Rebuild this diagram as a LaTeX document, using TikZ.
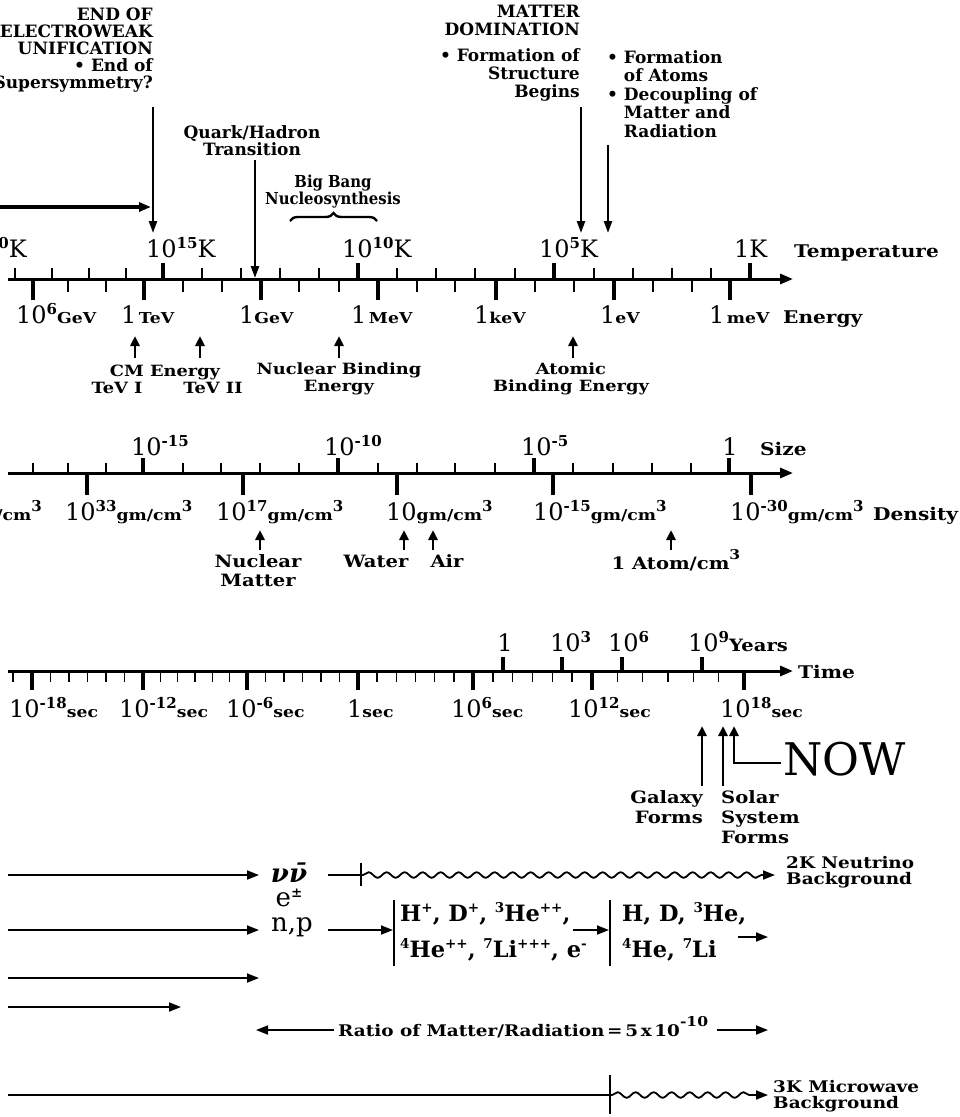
\documentclass[tikz,border=0pt]{standalone}
\usepackage{fontspec}
\setmainfont{DejaVu Serif}
\newfontfamily\sfam{DejaVu Serif}[FakeStretch=1.15]
\newfontfamily\cfam{DejaVu Serif Condensed}
\usetikzlibrary{arrows.meta,decorations.pathmorphing,decorations.pathreplacing}
\newcommand\EX[1]{\raisebox{8.5pt}{\fontsize{15}{15}\selectfont\bfseries #1}}
\newcommand\UN[1]{{\fontsize{15}{15}\selectfont\sfam\bfseries #1}}
\newcommand\HX[1]{\raisebox{9.5pt}{\fontsize{13.5}{13.5}\selectfont\bfseries #1}}
\tikzset{
  axisln/.style={line width=3pt,-{Triangle[length=13pt,width=10pt]}},
  tk/.style={line width=1.6pt},
  tkM/.style={line width=3.5pt},
  uparr/.style={line width=2.8pt,-{Triangle[length=10pt,width=9pt]}},
  vdown/.style={line width=2.4pt,-{Triangle[length=12pt,width=8pt]}},
  harr/.style={line width=1.8pt,-{Triangle[length=12pt,width=9pt]}},
  lab/.style={inner sep=0pt,font=\fontsize{17}{17}\selectfont\bfseries},
  axl/.style={inner sep=0pt,font=\fontsize{17.5}{18}\selectfont\sfam\bfseries},
  slab/.style={inner sep=0pt,font=\fontsize{15.5}{17}\selectfont\sfam\bfseries},
  dlb/.style={inner sep=0pt,font=\fontsize{17}{19}\selectfont\sfam\bfseries},
  glab/.style={inner sep=0pt,font=\fontsize{17}{20}\selectfont\sfam\bfseries},
  blab/.style={inner sep=0pt,font=\fontsize{16}{16}\selectfont\sfam\bfseries},
  num/.style={inner sep=0pt,font=\fontsize{24}{24}\selectfont},
  chem/.style={inner sep=0pt,font=\fontsize{22.5}{36}\selectfont\bfseries},
  wavy/.style={decorate,decoration={snake,amplitude=2.8pt,segment length=18pt,pre length=2pt,post length=10pt}},
}
\begin{document}
\begin{tikzpicture}[x=1pt,y=-1pt]
\useasboundingbox (0,0) rectangle (960,1117);

% ---------------- top labels and arrows
\node[lab,align=right,anchor=north east] (ew) at (153,8)
  {END OF\\ELECTROWEAK\\UNIFICATION\\\textbullet\ End of\\Supersymmetry?};
\coordinate (ewa) at (153,107); \coordinate (ewb) at (153,233);
\draw[vdown] (ewa) -- (ewb);
\coordinate (hza) at (-2,207); \coordinate (hzb) at (151,207);
\draw[line width=3.5pt,-{Triangle[length=12pt,width=9pt]}] (hza) -- (hzb);

\node[lab,align=center,anchor=north] (qh) at (252,125) {Quark/Hadron\\Transition};
\coordinate (qha) at (255,160); \coordinate (qhb) at (255,278);
\draw[vdown] (qha) -- (qhb);

\node[inner sep=0pt,align=center,anchor=north,font=\fontsize{16.5}{17}\selectfont\cfam\bfseries] (bbn) at (333,175) {Big Bang\\Nucleosynthesis};
\coordinate (bra) at (290,221); \coordinate (brb) at (377,221);
\draw[line width=2.4pt,decorate,decoration={brace,amplitude=8pt}] (bra) -- (brb);

\node[lab,align=right,anchor=north east,font=\fontsize{17}{18}\selectfont\bfseries] (md) at (580,5)
  {MATTER\\DOMINATION\\[8pt]\textbullet\ Formation of\\Structure\\Begins};
\coordinate (mda) at (581,107); \coordinate (mdb) at (581,233);
\draw[vdown] (mda) -- (mdb);

\node[lab,align=left,anchor=north west,font=\fontsize{17}{18.5}\selectfont\bfseries] (fa) at (607,50)
  {\textbullet\ Formation\\\phantom{\textbullet\ }of Atoms\\\textbullet\ Decoupling of\\\phantom{\textbullet\ }Matter and\\\phantom{\textbullet\ }Radiation};
\coordinate (faa) at (608,145); \coordinate (fab) at (608,233);
\draw[vdown] (faa) -- (fab);

% ---------------- temperature / energy axis
\coordinate (tea) at (8,279); \coordinate (teb) at (793,279);
\draw[axisln] (tea) -- (teb);
\foreach \x in {15,52,89,126,202,241,280,319,397,436,475,515,594,633,672,711}
  \draw[tk] (\x,279) -- (\x,268);
\foreach \x in {163,358,554,750} \draw[tkM] (\x,279) -- (\x,263);
\foreach \x in {68,106,183,222,299,339,417,455,535,574,653,692}
  \draw[tk] (\x,279) -- (\x,292);
\foreach \x in {33,144,261,378,496,614,730} \draw[tkM] (\x,279) -- (\x,300);

\node[num,anchor=base east] (t20) at (27,257) {10\EX{20}K};
\node[num,anchor=base west] (t15) at (146,257) {10\EX{15}K};
\node[num,anchor=base west] (t10) at (342,257) {10\EX{10}K};
\node[num,anchor=base west] (t5) at (539,257) {10\EX{5}K};
\node[num,anchor=base west] (t0) at (734,257) {1K};
\node[axl,anchor=base west] (tlab) at (794,257) {Temperature};

\node[num,anchor=base west] (e6) at (16,323) {10\EX{6}\UN{GeV}};
\node[num,anchor=base west] (eT) at (121,323) {1\UN{\,TeV}};
\node[num,anchor=base west] (eG) at (239,323) {1\UN{GeV}};
\node[num,anchor=base west] (eM) at (351,323) {1\UN{\,MeV}};
\node[num,anchor=base west] (ek) at (474,323) {1\UN{keV}};
\node[num,anchor=base west] (ee) at (600,323) {1\UN{eV}};
\node[num,anchor=base west] (em) at (709,323) {1\UN{\,meV}};
\node[axl,anchor=base west] (elab) at (783,323) {Energy};

\foreach \n/\x in {ua/135,ub/200,uc/339,ud/573}{
  \coordinate (\n s) at (\x,358); \coordinate (\n e) at (\x,336);
  \draw[uparr] (\n s) -- (\n e);}
\node[slab,anchor=base] (cm) at (165,376) {CM Energy};
\node[slab,anchor=base] (tv1) at (117,393) {TeV I};
\node[slab,anchor=base] (tv2) at (213,393) {TeV II};
\node[slab,align=center,anchor=north] (nbe) at (339,363) {Nuclear Binding\\Energy};
\node[slab,align=center,anchor=north] (abe) at (571,363) {Atomic\\Binding Energy};

% ---------------- size / density axis
\coordinate (sda) at (8,473); \coordinate (sdb) at (793,473);
\draw[axisln] (sda) -- (sdb);
\foreach \x in {33,68,106,183,221,260,299,378,417,455,495,573,613,652,691}
  \draw[tk] (\x,473) -- (\x,463);
\foreach \x in {143,338,534,729} \draw[tkM] (\x,473) -- (\x,458);
\foreach \x in {87,243,397,553,751} \draw[tkM] (\x,473) -- (\x,495);

\node[num,anchor=base west] (s15) at (131,455) {10\EX{-15}};
\node[num,anchor=base west] (s10) at (324,455) {10\EX{-10}};
\node[num,anchor=base west] (s5) at (521,455) {10\EX{-5}};
\node[num,anchor=base] (s0) at (730,455) {1};
\node[axl,anchor=base west] (slabel) at (760,455) {Size};

\node[num,anchor=base east] (d49) at (42,520) {10\EX{49}\UN{gm/cm}\EX{3}};
\node[num,anchor=base west] (d33) at (65,520) {10\EX{33}\UN{gm/cm}\EX{3}};
\node[num,anchor=base west] (d17) at (216,520) {10\EX{17}\UN{gm/cm}\EX{3}};
\node[num,anchor=base west] (d1) at (386,520) {10\UN{gm/cm}\EX{3}};
\node[num,anchor=base west] (d15) at (533,520) {10\EX{-15}\UN{gm/cm}\EX{3}};
\node[num,anchor=base west] (d30) at (730,520) {10\EX{-30}\UN{gm/cm}\EX{3}};
\node[axl,anchor=base west] (dlab) at (873,520) {Density};

\foreach \n/\x in {va/260,vb/404,vc/433,vd/671}{
  \coordinate (\n s) at (\x,550); \coordinate (\n e) at (\x,530);
  \draw[uparr] (\n s) -- (\n e);}
\node[dlb,align=center,anchor=north] (nm) at (258,554) {Nuclear\\Matter};
\node[dlb,anchor=base] (wat) at (376,567) {Water};
\node[dlb,anchor=base] (air) at (447,567) {Air};
\node[dlb,anchor=base] (atom) at (676,569) {1 Atom/cm\HX{3}};

% ---------------- time axis
\coordinate (tma) at (8,671); \coordinate (tmb) at (793,671);
\draw[axisln] (tma) -- (tmb);
\draw[tk] (13,671) -- (13,682);
\foreach \a/\b in {32/143,143/247,247/358,358/473,473/592,592/744}{
  \draw[tkM] (\a,671) -- (\a,690);
  \foreach \k in {1,...,5} \draw[tk] ({\a+\k*(\b-\a)/6},671) -- ++(0,11);}
\draw[tkM] (744,671) -- (744,690);
\foreach \x in {503,562,622,702} \draw[tkM] (\x,671) -- (\x,657);

\node[num,anchor=base] (y0) at (505,651) {1};
\node[num,anchor=base west] (y3) at (550,651) {10\EX{3}};
\node[num,anchor=base west] (y6) at (608,651) {10\EX{6}};
\node[num,anchor=base west] (y9) at (688,651) {10\EX{9}{\fontsize{17}{17}\selectfont\sfam\bfseries Years}};
\node[axl,anchor=base west] (tml) at (798,678) {Time};

\node[num,anchor=base west] (s18) at (9,717) {10\EX{-18}\UN{sec}};
\node[num,anchor=base west] (s12) at (119,717) {10\EX{-12}\UN{sec}};
\node[num,anchor=base west] (s6) at (226,717) {10\EX{-6}\UN{sec}};
\node[num,anchor=base west] (s1) at (347,717) {1\UN{sec}};
\node[num,anchor=base west] (sp6) at (451,717) {10\EX{6}\UN{sec}};
\node[num,anchor=base west] (sp12) at (568,717) {10\EX{12}\UN{sec}};
\node[num,anchor=base west] (sp18) at (720,717) {10\EX{18}\UN{sec}};

\coordinate (gas) at (702,786); \coordinate (gae) at (702,726);
\coordinate (sss) at (723,786); \coordinate (sse) at (723,726);
\draw[uparr] (gas) -- (gae);
\draw[uparr] (sss) -- (sse);
\node[inner sep=0pt,anchor=base west,font=\fontsize{45}{45}\selectfont] (now) at (783,775) {NOW};
\coordinate (nowarm) at (781,763);
\coordinate (nowtip) at (734,726);
\draw[uparr] (nowarm) -| (nowtip);
\node[glab,align=right,anchor=north east] (gal) at (703,790) {Galaxy\\Forms};
\node[glab,align=left,anchor=north west] (sol) at (721,790) {Solar\\System\\Forms};

% ---------------- bottom rows
\node[inner sep=0pt,font=\fontsize{26}{26}\selectfont\bfseries\itshape] (nuv) at (289,873) {ν\=ν};
\coordinate (r1a) at (8,875); \coordinate (r1b) at (259,875);
\draw[harr] (r1a) -- (r1b);
\coordinate (r1c) at (328,875); \coordinate (r1d) at (361,875); \coordinate (r1e) at (775,875);
\draw[line width=1.8pt] (r1c) -- (r1d);
\draw[line width=1.8pt] (361,863) -- (361,886);
\draw[line width=1.8pt,wavy,-{Triangle[length=12pt,width=9pt]}] (r1d) -- (r1e);
\node[blab,align=left,anchor=north west] (nb) at (786,856) {2K Neutrino\\Background};

\node[inner sep=0pt,font=\fontsize{26}{26}\selectfont] (epm) at (289,898) {e\HX{±}};
\node[inner sep=0pt,font=\fontsize{26}{26}\selectfont] (np) at (292,927) {n,p};
\coordinate (r2a) at (8,930); \coordinate (r2b) at (259,930);
\draw[harr] (r2a) -- (r2b);
\coordinate (r2c) at (328,930); \coordinate (bar1) at (393,930);
\draw[harr] (r2c) -- (bar1);
\draw[line width=1.8pt] (394,900) -- (394,966);
\node[chem,align=left,anchor=north west] (c1) at (400,902)
  {H\HX{+}, D\HX{+}, \HX{3}He\HX{++},\\\HX{4}He\HX{++}, \HX{7}Li\HX{+++}, e\HX{-}};
\coordinate (r2d) at (573,930); \coordinate (bar2) at (609,930);
\draw[harr] (r2d) -- (bar2);
\draw[line width=1.8pt] (610,900) -- (610,966);
\node[chem,align=left,anchor=north west] (c2) at (622,902)
  {H, D, \HX{3}He,\\\HX{4}He, \HX{7}Li};
\coordinate (r2e) at (738,937); \coordinate (r2f) at (768,937);
\draw[harr] (r2e) -- (r2f);

\coordinate (r3a) at (8,978); \coordinate (r3b) at (259,978);
\draw[harr] (r3a) -- (r3b);
\coordinate (r4a) at (8,1007); \coordinate (r4b) at (181,1007);
\draw[harr] (r4a) -- (r4b);

\node[blab,anchor=base west] (ratio) at (338,1036) {Ratio of Matter/Radiation\,=\,5\,x\,10\HX{-10}};
\coordinate (r5a) at (334,1030); \coordinate (r5b) at (256,1030);
\draw[harr] (r5a) -- (r5b);
\coordinate (r5c) at (717,1030); \coordinate (r5d) at (768,1030);
\draw[harr] (r5c) -- (r5d);

\coordinate (r6a) at (8,1095); \coordinate (r6b) at (610,1095); \coordinate (r6c) at (768,1095);
\draw[line width=1.8pt] (r6a) -- (r6b);
\draw[line width=1.8pt] (610,1075) -- (610,1114);
\draw[line width=1.8pt,wavy,-{Triangle[length=12pt,width=9pt]}] (r6b) -- (r6c);
\node[blab,align=left,anchor=north west] (mw) at (773,1080) {3K Microwave\\Background};
\end{tikzpicture}
\end{document}
